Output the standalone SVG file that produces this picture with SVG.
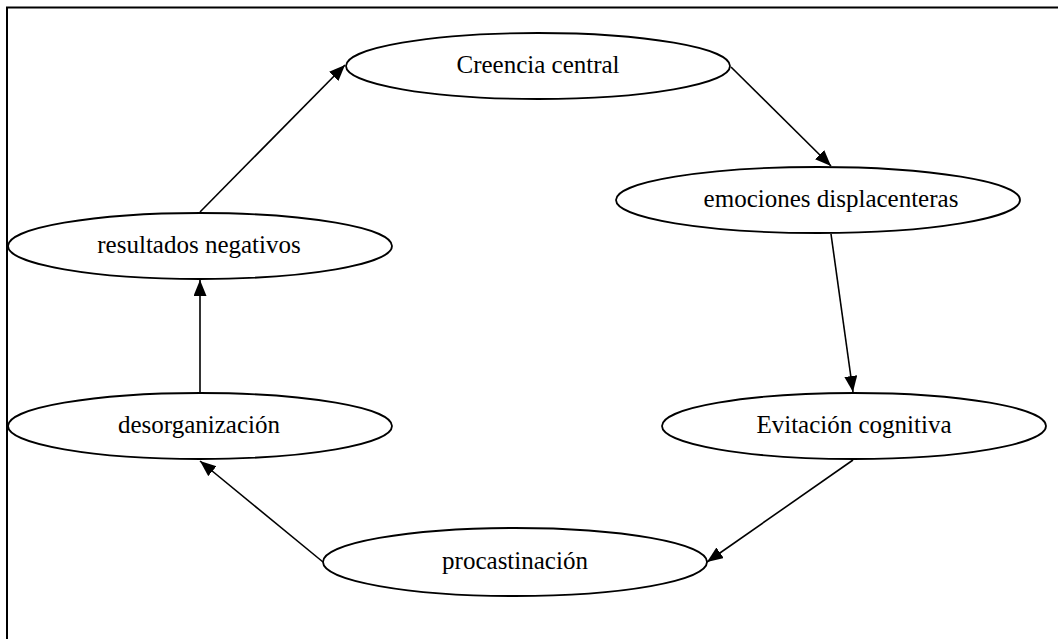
<svg xmlns="http://www.w3.org/2000/svg" width="1058" height="639" viewBox="0 0 1058 639">
<style>
.node ellipse{fill:#fff;stroke:#000;stroke-width:1.8}
.node text{font-family:"Liberation Serif","Times New Roman",serif;font-size:25px;fill:#000;text-anchor:middle}
.edge{stroke:#000;stroke-width:1.6;fill:none;marker-end:url(#ah)}
</style>
<defs>
<marker id="ah" markerUnits="userSpaceOnUse" markerWidth="17" markerHeight="14" refX="16" refY="6.5" orient="auto">
<path d="M0,0 L16,6.5 L0,13 Z" fill="#000"/>
</marker>
</defs>
<rect width="1058" height="639" fill="#fff"/>
<path d="M7,639 L7,7.5 L1058,7.5" fill="none" stroke="#000" stroke-width="2"/>
<g id="connectors">
<line class="edge" x1="200" y1="212" x2="345" y2="65"/>
<line class="edge" x1="731" y1="67" x2="831" y2="166"/>
<line class="edge" x1="831" y1="234" x2="853" y2="392"/>
<line class="edge" x1="853" y1="460" x2="707" y2="562"/>
<line class="edge" x1="323" y1="562" x2="200" y2="461"/>
<line class="edge" x1="200" y1="393" x2="200" y2="280"/>
</g>
<g id="n1" class="node"><ellipse cx="538" cy="66" rx="192" ry="33"/><text x="538" y="73">Creencia central</text></g>
<g id="n2" class="node"><ellipse cx="818" cy="200" rx="202" ry="33"/><text x="831" y="207">emociones displacenteras</text></g>
<g id="n3" class="node"><ellipse cx="854" cy="426" rx="192" ry="33"/><text x="854" y="433">Evitación cognitiva</text></g>
<g id="n4" class="node"><ellipse cx="515" cy="562" rx="192" ry="34"/><text x="515" y="569">procastinación</text></g>
<g id="n5" class="node"><ellipse cx="200" cy="426" rx="192" ry="33"/><text x="199" y="433">desorganización</text></g>
<g id="n6" class="node"><ellipse cx="200" cy="246" rx="192" ry="33"/><text x="199" y="253">resultados negativos</text></g>
</svg>
